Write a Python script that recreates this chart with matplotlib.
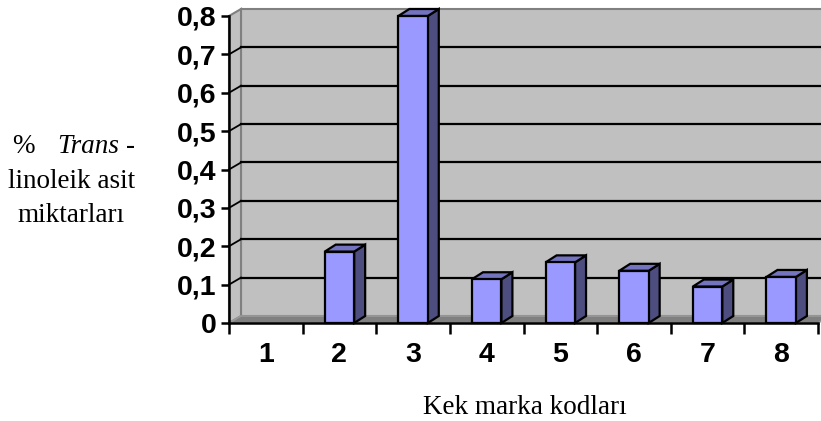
import matplotlib.pyplot as plt
from matplotlib.patches import Polygon, Rectangle

# Trans-linoleik asit miktarlari (%) per brand code
codes = ['1', '2', '3', '4', '5', '6', '7', '8']
values = [0.0, 0.186, 0.80, 0.114, 0.158, 0.136, 0.095, 0.12]
yticks = [0.0, 0.1, 0.2, 0.3, 0.4, 0.5, 0.6, 0.7, 0.8]

W, H = 821, 421
fig = plt.figure(figsize=(W / 100, H / 100), dpi=100)
# front plane of the plot area, in pixels: x 229..818, y 16..323
ax = fig.add_axes([229 / W, (H - 323) / H, 589 / W, 307 / H])
n = len(codes)
ax.set_xlim(0.5, n + 0.5)
ax.set_ylim(0, 0.8)

# 3d depth offsets in data units
px_x = n / 589.0
px_y = 0.8 / 307.0
dx, dy = 12 * px_x, 7 * px_y
bdx, bdy = 11 * px_x, 7 * px_y
bw = 0.4

wall = '#c0c0c0'
edge = '#808080'

# back wall
ax.add_patch(Polygon([(0.5 + dx, dy), (n + 0.5 + dx, dy), (n + 0.5 + dx, 0.8 + dy),
                      (0.5 + dx, 0.8 + dy)], closed=True, fc=wall, ec=edge, lw=1.5,
                     clip_on=False, zorder=1))
# side wall
ax.add_patch(Polygon([(0.5, 0), (0.5 + dx, dy), (0.5 + dx, 0.8 + dy), (0.5, 0.8)],
                     closed=True, fc=wall, ec=edge, lw=1.5, clip_on=False, zorder=1))
# floor
ax.add_patch(Polygon([(0.5, 0), (n + 0.5, 0), (n + 0.5 + dx, dy), (0.5 + dx, dy)],
                     closed=True, fc='#808080', ec='#999999', lw=1.2, clip_on=False, zorder=1))

# gridlines on the walls
for v in yticks[1:-1]:
    ax.plot([0.5 + dx, n + 0.5 + dx], [v + dy, v + dy], color='black', lw=1.6,
            clip_on=False, zorder=2)
    ax.plot([0.5, 0.5 + dx], [v, v + dy], color='black', lw=1.3, clip_on=False, zorder=2)

# 3d columns
for i, v in enumerate(values):
    if v <= 0:
        continue
    x0 = i + 1 - bw / 2
    x1 = x0 + bw
    ax.add_patch(Polygon([(x1, 0), (x1 + bdx, bdy), (x1 + bdx, v + bdy), (x1, v)],
                         closed=True, fc='#4d4d80', ec='black', lw=1.6, clip_on=False, zorder=3))
    ax.add_patch(Polygon([(x0, v), (x1, v), (x1 + bdx, v + bdy), (x0 + bdx, v + bdy)],
                         closed=True, fc='#7373bf', ec='black', lw=1.6, clip_on=False, zorder=3))
    ax.add_patch(Rectangle((x0, 0), bw, v, fc='#9999ff', ec='black', lw=1.6,
                           clip_on=False, zorder=4))

for s in ['top', 'right']:
    ax.spines[s].set_visible(False)
for s in ['left', 'bottom']:
    ax.spines[s].set_linewidth(1.8)
    ax.spines[s].set_zorder(5)
ax.patch.set_visible(False)

tick_font = dict(family='Liberation Sans', weight='bold', size=20.5)
ax.set_yticks(yticks)
ax.set_yticklabels([('%g' % t).replace('.', ',') for t in yticks], **tick_font)
ax.tick_params(axis='y', length=6, width=1.8, pad=3)
ax.set_xticks([i + 0.5 for i in range(n + 1)])
ax.set_xticklabels([])
ax.tick_params(axis='x', which='major', length=8, width=1.8)
ax.set_xticks(range(1, n + 1), minor=True)
ax.set_xticklabels(codes, minor=True, **tick_font)
ax.tick_params(axis='x', which='minor', length=0, pad=14)

serif = 'Liberation Serif'
lab = 19.5
fig.text(12 / W, (H - 153) / H, '%', family=serif, size=lab, va='baseline')
fig.text(57 / W, (H - 153) / H, 'Trans', family=serif, style='italic', size=lab, va='baseline')
fig.text(126 / W, (H - 153) / H, '-', family=serif, size=lab, va='baseline')
fig.text(71.5 / W, (H - 188) / H, 'linoleik asit', family=serif, size=lab,
         ha='center', va='baseline')
fig.text(71.5 / W, (H - 222) / H, 'miktarları', family=serif, size=lab,
         ha='center', va='baseline')
fig.text(525 / W, (H - 414) / H, 'Kek marka kodları', family=serif, size=lab,
         ha='center', va='baseline')

fig.savefig('out.png', dpi=100)
